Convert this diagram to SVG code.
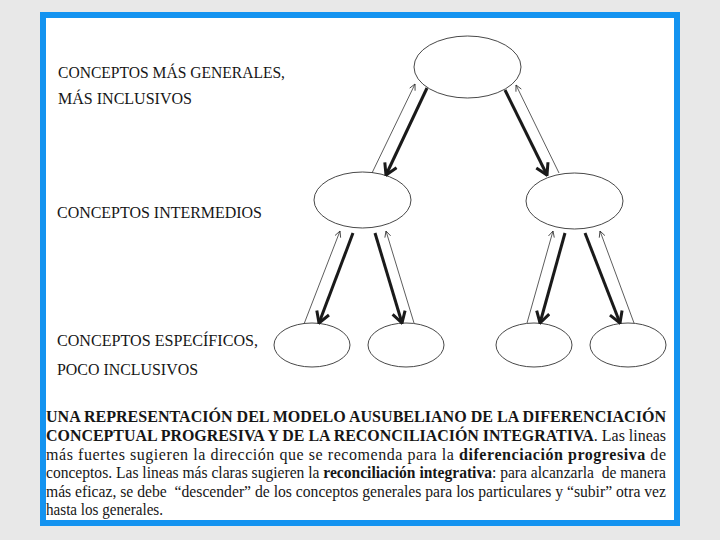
<svg xmlns="http://www.w3.org/2000/svg" width="720" height="540" viewBox="0 0 720 540">
<style>
.lbl{font-family:"Liberation Serif","Times New Roman",serif;font-size:16px;fill:#161616}
.p{font-family:"Liberation Serif","Times New Roman",serif;font-size:16px;fill:#161616;white-space:pre}
.b{font-weight:bold}
.node{fill:#fff;stroke:#333;stroke-width:0.9}
.thick{stroke:#1a1a1a;stroke-width:3;fill:none;marker-end:url(#hT)}
.thin{stroke:#333;stroke-width:0.8;fill:none;marker-end:url(#hL)}
</style>
<defs>
<marker id="hT" viewBox="0 0 14 16" refX="12.5" refY="8" markerWidth="14" markerHeight="16" markerUnits="userSpaceOnUse" orient="auto">
<path d="M1.5,1.5 L12.5,8 L1.5,14.5" fill="none" stroke="#1a1a1a" stroke-width="3" stroke-linejoin="miter"/>
</marker>
<marker id="hL" viewBox="0 0 8 8" refX="7" refY="4" markerWidth="8" markerHeight="8" markerUnits="userSpaceOnUse" orient="auto">
<path d="M1,1 L7,4 L1,7" fill="none" stroke="#333" stroke-width="0.8"/>
</marker>
</defs>
<rect x="0" y="0" width="720" height="540" fill="#e8e8e8"/>
<rect x="43" y="15" width="634" height="508" fill="#fff" stroke="#1493f0" stroke-width="6"/>

<g id="labels">
<text class="lbl" x="58" y="78" textLength="227" lengthAdjust="spacingAndGlyphs">CONCEPTOS MÁS GENERALES,</text>
<text class="lbl" x="58" y="104" textLength="134" lengthAdjust="spacingAndGlyphs">MÁS INCLUSIVOS</text>
<text class="lbl" x="57" y="218" textLength="205" lengthAdjust="spacingAndGlyphs">CONCEPTOS INTERMEDIOS</text>
<text class="lbl" x="57" y="346" textLength="201" lengthAdjust="spacingAndGlyphs">CONCEPTOS ESPECÍFICOS,</text>
<text class="lbl" x="57" y="375" textLength="141" lengthAdjust="spacingAndGlyphs">POCO INCLUSIVOS</text>
</g>

<g id="n-top"><ellipse class="node" cx="467.5" cy="67" rx="53.5" ry="31"/></g>
<g id="n-mid-left"><ellipse class="node" cx="362.5" cy="200" rx="48.5" ry="28"/></g>
<g id="n-mid-right"><ellipse class="node" cx="574.5" cy="201" rx="48.5" ry="28"/></g>
<g id="n-bot-1"><ellipse class="node" cx="312" cy="345" rx="38" ry="22"/></g>
<g id="n-bot-2"><ellipse class="node" cx="406" cy="345" rx="38" ry="22"/></g>
<g id="n-bot-3"><ellipse class="node" cx="534" cy="345" rx="38" ry="22"/></g>
<g id="n-bot-4"><ellipse class="node" cx="628" cy="345" rx="38" ry="22"/></g>

<g id="connectors">
<line class="thick" x1="427" y1="88" x2="386" y2="175"/>
<line class="thin" x1="372" y1="173" x2="415" y2="84"/>
<line class="thick" x1="505" y1="90" x2="547" y2="175"/>
<line class="thin" x1="559" y1="173" x2="516" y2="85"/>

<line class="thin" x1="304" y1="324" x2="340" y2="231"/>
<line class="thick" x1="353" y1="233" x2="319" y2="323"/>
<line class="thick" x1="375" y1="233" x2="402" y2="323"/>
<line class="thin" x1="414" y1="323" x2="386" y2="231"/>

<line class="thin" x1="527" y1="323" x2="553" y2="231"/>
<line class="thick" x1="565" y1="233" x2="540" y2="323"/>
<line class="thick" x1="585" y1="233" x2="620" y2="323"/>
<line class="thin" x1="634" y1="323" x2="600" y2="231"/>
</g>

<g id="caption">
<text class="p b" x="46" y="422" textLength="620" lengthAdjust="spacingAndGlyphs">UNA REPRESENTACIÓN DEL MODELO AUSUBELIANO DE LA DIFERENCIACIÓN</text>
<text class="p" x="46" y="441" textLength="620" lengthAdjust="spacingAndGlyphs"><tspan class="b">CONCEPTUAL PROGRESIVA Y DE LA RECONCILIACIÓN INTEGRATIVA</tspan>. Las lineas</text>
<text class="p" x="46" y="460" textLength="620" lengthAdjust="spacing">más fuertes sugieren la dirección que se recomenda para la <tspan class="b">diferenciación progresiva</tspan> de</text>
<text class="p" x="46" y="478" textLength="620" lengthAdjust="spacingAndGlyphs">conceptos. Las lineas más claras sugieren la <tspan class="b">reconciliación integrativa</tspan>: para alcanzarla  de manera</text>
<text class="p" x="46" y="497" textLength="620" lengthAdjust="spacingAndGlyphs">más eficaz, se debe  “descender” de los conceptos generales para los particulares y “subir” otra vez</text>
<text class="p" x="46" y="515" textLength="117" lengthAdjust="spacingAndGlyphs">hasta los generales.</text>
</g>
</svg>
